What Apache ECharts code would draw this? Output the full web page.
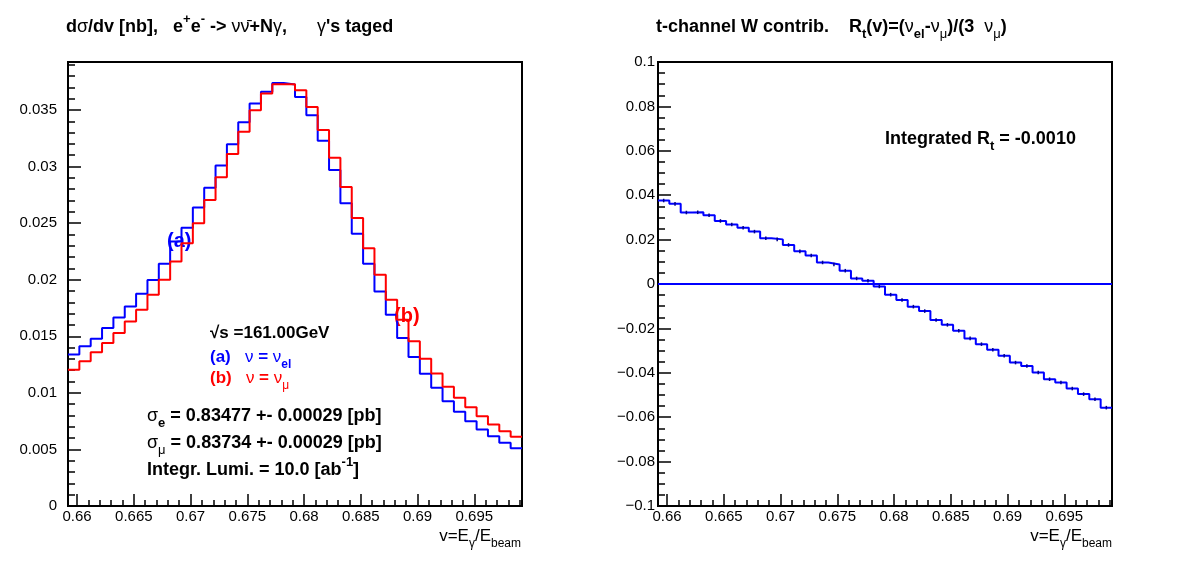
<!DOCTYPE html>
<html>
<head>
<meta charset="utf-8">
<script src="https://cdn.jsdelivr.net/npm/echarts@6/dist/echarts.min.js"></script>
<style>
  html, body { margin: 0; padding: 0; background: #fff; }
  #main { width: 1182px; height: 567px; }
</style>
</head>
<body>
<div id="main"></div>
<script>
// binning of v = E_gamma / E_beam
var binLow = 0.6592
var binWidth = 0.001
var nBins = 40

// d(sigma)/dv [nb], (a) nu = nu_el
var sigmaEl = [
  0.01338, 0.01411, 0.01479, 0.01573, 0.01667, 0.01764, 0.01876, 0.01998, 0.0214, 0.02337,
  0.0246, 0.02637, 0.02813, 0.0301, 0.03198, 0.03392, 0.03557, 0.0366, 0.03739, 0.03725,
  0.03615, 0.03454, 0.03227, 0.02969, 0.02675, 0.02405, 0.0214, 0.01896, 0.0169, 0.01485,
  0.01317, 0.01168, 0.01044, 0.00926, 0.00832, 0.0075, 0.00676, 0.00617, 0.00559, 0.00511
]
// (b) nu = nu_mu
var sigmaMu = [
  0.01205, 0.01279, 0.01358, 0.01441, 0.01529, 0.01631, 0.01735, 0.01867, 0.01999, 0.0216,
  0.02323, 0.02499, 0.02704, 0.02905, 0.0311, 0.03307, 0.03498, 0.03645, 0.03727, 0.03727,
  0.03674, 0.03527, 0.03322, 0.03078, 0.02819, 0.02546, 0.02279, 0.02043, 0.01823, 0.01646,
  0.01455, 0.01302, 0.0117, 0.01053, 0.00956, 0.00873, 0.00794, 0.0072, 0.00661, 0.00612
]
// R_t(v) = (nu_el - nu_mu) / (3 nu_mu)
var ratioRt = [
  0.0376, 0.0361, 0.0322, 0.0323, 0.0310, 0.0284, 0.0268, 0.0253, 0.0236, 0.0206,
  0.0201, 0.0176, 0.0147, 0.0128, 0.0097, 0.0088, 0.0060, 0.0025, 0.0015, -0.0011,
  -0.0048, -0.0072, -0.0102, -0.0122, -0.0162, -0.0184, -0.0211, -0.0245, -0.0271, -0.0296,
  -0.0323, -0.0354, -0.0369, -0.0399, -0.0429, -0.0444, -0.0471, -0.0496, -0.0519, -0.0557
]
var ratioErr = 0.0008

var FONT = '"Liberation Sans", Arial, Helvetica, sans-serif'

function binEdges () {
  var e = []
  for (var i = 0; i <= nBins; i++) e.push(+(binLow + i * binWidth).toFixed(5))
  return e
}

// histogram as step line through bin low edges (+ closing edge)
function histPoints (vals) {
  var edges = binEdges()
  var pts = vals.map(function (v, i) { return [edges[i], v] })
  pts.push([edges[nBins], vals[vals.length - 1]])
  return pts
}

function fmt (v) {
  var s = String(parseFloat(v.toFixed(4)))
  return s.charAt(0) === '-' ? '\u2212' + s.slice(1) : s
}

function richStyles (color, size) {
  var fs = size || 18
  var sfs = Math.round(fs * 0.7)
  var lh = fs + 10
  return {
    b: { fontFamily: FONT, fontWeight: 'bold', fontSize: fs, lineHeight: lh, fill: color },
    n: { fontFamily: FONT, fontSize: fs, lineHeight: lh, fill: color },
    g: { fontFamily: FONT, fontSize: fs, lineHeight: lh, fill: color },
    sub: { fontFamily: FONT, fontWeight: 'bold', fontSize: sfs, lineHeight: sfs, verticalAlign: 'bottom', fill: color },
    subn: { fontFamily: FONT, fontSize: sfs, lineHeight: sfs, verticalAlign: 'bottom', fill: color },
    subg: { fontFamily: FONT, fontSize: sfs, lineHeight: sfs, verticalAlign: 'bottom', fill: color },
    sup: { fontFamily: FONT, fontWeight: 'bold', fontSize: sfs, lineHeight: sfs, verticalAlign: 'top', fill: color }
  }
}

function label (x, y, text, color, align, size) {
  return {
    type: 'text',
    x: x,
    y: y,
    silent: true,
    style: {
      text: text,
      align: align || 'left',
      verticalAlign: 'middle',
      rich: richStyles(color || '#000', size)
    }
  }
}

function xAxisOpt (gridIndex) {
  return {
    type: 'value',
    gridIndex: gridIndex,
    min: binLow,
    max: +(binLow + nBins * binWidth).toFixed(5),
    splitNumber: 8,
    axisLine: { show: true, onZero: false, lineStyle: { color: '#000', width: 2 } },
    axisTick: { show: true, inside: true, length: 12, lineStyle: { color: '#000', width: 1.5 } },
    minorTick: { show: true, splitNumber: 5, length: 6, lineStyle: { color: '#000', width: 1.5 } },
    splitLine: { show: false },
    axisLabel: {
      color: '#000', fontFamily: FONT, fontSize: 15, margin: 3,
      showMinLabel: false, showMaxLabel: false,
      formatter: fmt
    }
  }
}

var chartDom = document.getElementById('main')
var myChart = echarts.init(chartDom, null, { renderer: 'canvas' })
var option

option = {
  animation: false,
  backgroundColor: '#fff',
  grid: [
    { left: 68, right: 660, top: 62, bottom: 61, show: true, borderColor: '#000', borderWidth: 2, backgroundColor: '#fff' },
    { left: 658, right: 70, top: 62, bottom: 61, show: true, borderColor: '#000', borderWidth: 2, backgroundColor: '#fff' }
  ],
  xAxis: [xAxisOpt(0), xAxisOpt(1)],
  yAxis: [
    {
      type: 'value',
      gridIndex: 0,
      min: 0,
      max: 0.03924,
      splitNumber: 8,
      axisLine: { show: true, lineStyle: { color: '#000', width: 2 } },
      axisTick: { show: true, inside: true, length: 13, lineStyle: { color: '#000', width: 1.5 } },
      minorTick: { show: true, splitNumber: 5, length: 7, lineStyle: { color: '#000', width: 1.5 } },
      splitLine: { show: false },
      axisLabel: { color: '#000', fontFamily: FONT, fontSize: 15, margin: 11, showMaxLabel: false, formatter: fmt }
    },
    {
      type: 'value',
      gridIndex: 1,
      min: -0.1,
      max: 0.1,
      interval: 0.02,
      axisLine: { show: true, onZero: false, lineStyle: { color: '#000', width: 2 } },
      axisTick: { show: true, inside: true, length: 13, lineStyle: { color: '#000', width: 1.5 } },
      minorTick: { show: true, splitNumber: 4, length: 7, lineStyle: { color: '#000', width: 1.5 } },
      splitLine: { show: false },
      axisLabel: { color: '#000', fontFamily: FONT, fontSize: 15, margin: 3, formatter: fmt }
    }
  ],
  series: [
    {
      name: 'nu_el',
      type: 'line',
      xAxisIndex: 0,
      yAxisIndex: 0,
      step: 'end',
      showSymbol: false,
      data: histPoints(sigmaEl),
      lineStyle: { color: '#0000ff', width: 2 },
      z: 3
    },
    {
      name: 'nu_mu',
      type: 'line',
      xAxisIndex: 0,
      yAxisIndex: 0,
      step: 'end',
      showSymbol: false,
      data: histPoints(sigmaMu),
      lineStyle: { color: '#ff0000', width: 2 },
      z: 4
    },
    {
      name: 'Rt',
      type: 'line',
      xAxisIndex: 1,
      yAxisIndex: 1,
      step: 'end',
      showSymbol: false,
      data: histPoints(ratioRt),
      lineStyle: { color: '#0000ff', width: 2 },
      markLine: {
        silent: true,
        symbol: ['none', 'none'],
        label: { show: false },
        lineStyle: { color: '#0000ff', width: 2, type: 'solid' },
        data: [{ yAxis: 0 }]
      },
      z: 3
    },
    {
      name: 'Rt err',
      type: 'custom',
      xAxisIndex: 1,
      yAxisIndex: 1,
      data: ratioRt.map(function (v, i) { return [binLow + (i + 0.5) * binWidth, v] }),
      renderItem: function (params, api) {
        var x = api.value(0)
        var v = api.value(1)
        var p1 = api.coord([x, v - ratioErr])
        var p2 = api.coord([x, v + ratioErr])
        return {
          type: 'line',
          shape: { x1: p1[0], y1: p1[1], x2: p2[0], y2: p2[1] },
          style: { stroke: '#00008b', lineWidth: 1.5 }
        }
      },
      z: 5
    }
  ],
  graphic: [
    label(66, 27, '{b|d}{g|σ}{b|/dv [nb],   e}{sup|+}{b|e}{sup|-}{b| -> }{g|νν\u0304}{b|+N}{g|γ}{b|,      }{g|γ}{b|\'s taged}'),
    label(656, 27, '{b|t-channel W contrib.    R}{sub|t}{b|(v)=(}{g|ν}{sub|el}{b|-}{g|ν}{subg|μ}{b|)/(3  }{g|ν}{subg|μ}{b|)}'),
    label(210, 333, '{b|√s =161.00GeV}', '#000', 'left', 17),
    label(210, 357, '{b|(a)   }{g|ν}{b| = }{g|ν}{sub|el}', '#0000ff', 'left', 17),
    label(210, 378, '{b|(b)   }{g|ν}{b| = }{g|ν}{subg|μ}', '#ff0000', 'left', 17),
    label(147, 416, '{g|σ}{sub|e}{b| = 0.83477 +- 0.00029 [pb]}'),
    label(147, 443, '{g|σ}{subg|μ}{b| = 0.83734 +- 0.00029 [pb]}'),
    label(147, 470, '{b|Integr. Lumi. = 10.0 [ab}{sup|-1}{b|]}'),
    label(167, 241, '{b|(a)}', '#0000ff', 'left', 20),
    label(394, 316, '{b|(b)}', '#ff0000', 'left', 20),
    label(885, 139, '{b|Integrated R}{sub|t}{b| = -0.0010}'),
    label(521, 536, '{n|v=E}{subg|γ}{n|/E}{subn|beam}', '#000', 'right', 17),
    label(1112, 536, '{n|v=E}{subg|γ}{n|/E}{subn|beam}', '#000', 'right', 17)
  ]
}

option && myChart.setOption(option)

window.addEventListener('resize', () => {
  myChart.resize()
})
</script>
</body>
</html>
